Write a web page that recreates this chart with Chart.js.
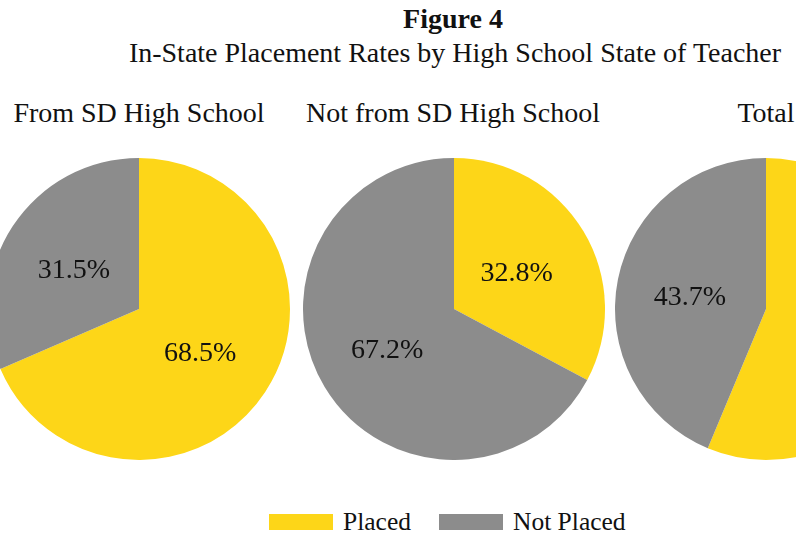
<!DOCTYPE html>
<html>
<head>
<meta charset="utf-8">
<script src="https://cdn.jsdelivr.net/npm/chart.js@4"></script>
<style>
  html, body { margin: 0; padding: 0; width: 796px; height: 533px; overflow: hidden; background: #fff; }
  body { position: relative; font-family: "Liberation Serif", "DejaVu Serif", serif; color: #111; }
  .txt { position: absolute; white-space: nowrap; transform: translateX(-50%); line-height: 1; }
  .pie { position: absolute; width: 302px; height: 302px; }
  .legend { position: absolute; top: 509px; left: 269px; font-size: 25.5px; line-height: 1; display: flex; align-items: center; }
  .swatch { display: inline-block; width: 64px; height: 16px; margin-right: 10px; }
</style>
</head>
<body>
<div class="txt" style="left:453px; top:5px; font-size:28px; font-weight:bold;">Figure 4</div>
<div class="txt" style="left:455px; top:39px; font-size:28px;">In-State Placement Rates by High School State of Teacher</div>

<div class="txt" id="t0" style="top:99px; font-size:28px;"></div>
<div class="txt" id="t1" style="top:99px; font-size:28px;"></div>
<div class="txt" id="t2" style="top:99px; font-size:28px;"></div>

<div class="pie" style="left:-12px; top:158px;"><canvas id="pie0" width="302" height="302"></canvas></div>
<div class="pie" style="left:303px; top:158px;"><canvas id="pie1" width="302" height="302"></canvas></div>
<div class="pie" style="left:615px; top:158px;"><canvas id="pie2" width="302" height="302"></canvas></div>

<div class="legend">
  <span class="swatch" style="background:#FDD618"></span><span style="margin-right:28px">Placed</span>
  <span class="swatch" style="background:#8C8C8C"></span><span>Not Placed</span>
</div>

<script>
// categories and series
const groups = ["From SD High School", "Not from SD High School", "Total"];
const groupCenters = [139, 453, 766];
const labels = ["Placed", "Not Placed"];
const placed = [68.5, 32.8, 56.3];
const notPlaced = [31.5, 67.2, 43.7];
const colors = ["#FDD618", "#8C8C8C"];

const labelFont = '28px "Liberation Serif"';

// labels in the middle of each slice
const sliceLabels = {
  id: "sliceLabels",
  afterDatasetsDraw(chart) {
    const ctx = chart.ctx;
    const ds = chart.data.datasets[0];
    ctx.save();
    ctx.font = labelFont;
    ctx.fillStyle = "#111";
    ctx.textAlign = "center";
    ctx.textBaseline = "middle";
    chart.getDatasetMeta(0).data.forEach((arc, i) => {
      const p = arc.tooltipPosition();
      ctx.fillText(ds.data[i].toFixed(1) + "%", p.x - 2, p.y + 3);
    });
    ctx.restore();
  }
};

function drawCharts() {
  groups.forEach((g, i) => {
    const t = document.getElementById("t" + i);
    t.textContent = g;
    t.style.left = groupCenters[i] + "px";

    new Chart(document.getElementById("pie" + i), {
      type: "pie",
      data: {
        labels: labels,
        datasets: [{
          data: [placed[i], notPlaced[i]],
          backgroundColor: colors,
          borderWidth: 0
        }]
      },
      options: {
        responsive: false,
        animation: false,
        layout: { padding: 0 },
        plugins: {
          legend: { display: false },
          tooltip: { enabled: false }
        }
      },
      plugins: [sliceLabels]
    });
  });
}

// make sure the serif font is ready before canvas text is drawn
document.fonts.load(labelFont).then(drawCharts, drawCharts);
</script>
</body>
</html>
